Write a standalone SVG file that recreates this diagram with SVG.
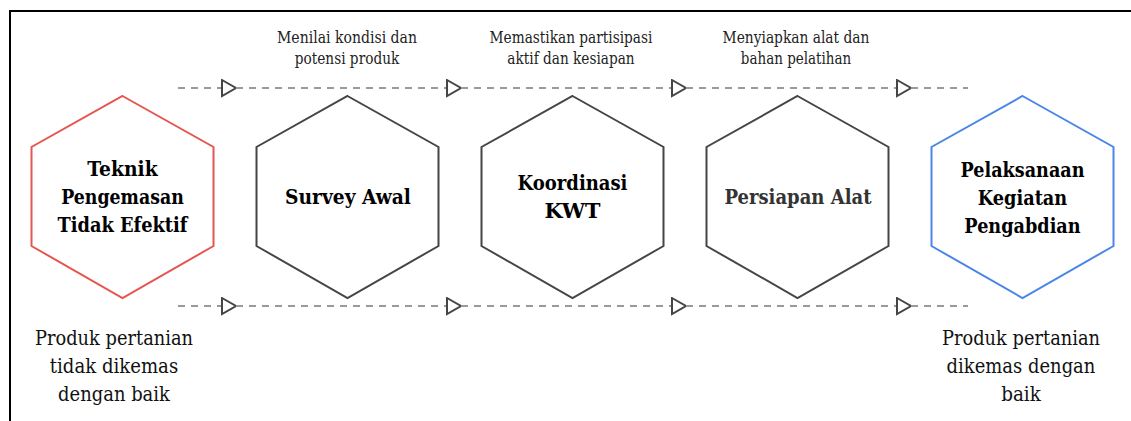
<svg xmlns="http://www.w3.org/2000/svg" width="1131" height="421" viewBox="0 0 1131 421">
<style>
.hex{fill:#fff;stroke-width:2;stroke-linejoin:miter}
.dark{stroke:#454545}
.red{stroke:#E4564F}
.blue{stroke:#4A86E8}
text{font-family:'DejaVu Serif','Liberation Serif',serif;text-anchor:middle}
.lbl{font-weight:bold;font-size:21px;fill:#000}
.note{font-size:16px;fill:#222}
.out{font-size:21px;fill:#111}
.con{fill:none;stroke:#9a9a9a;stroke-width:2;stroke-dasharray:7 6}
</style>
<defs>
<marker id="arr" markerUnits="userSpaceOnUse" markerWidth="18" markerHeight="20" refX="15" refY="9" orient="auto" viewBox="0 0 18 20">
<path d="M1,1 L15,9 L1,17 Z" fill="#fff" stroke="#454545" stroke-width="2" stroke-linejoin="miter"/>
</marker>
</defs>
<rect width="1131" height="421" fill="#fff"/>
<path d="M10,421 L10,11 L1131,11" fill="none" stroke="#000" stroke-width="2"/>
<g id="connectors">
<path class="con" d="M178,88 H236" marker-end="url(#arr)"/>
<path class="con" d="M236,88 H461" marker-end="url(#arr)"/>
<path class="con" d="M461,88 H686" marker-end="url(#arr)"/>
<path class="con" d="M686,88 H911" marker-end="url(#arr)"/>
<path class="con" d="M911,88 H968"/>
<path class="con" d="M178,306 H236" marker-end="url(#arr)"/>
<path class="con" d="M236,306 H461" marker-end="url(#arr)"/>
<path class="con" d="M461,306 H686" marker-end="url(#arr)"/>
<path class="con" d="M686,306 H911" marker-end="url(#arr)"/>
<path class="con" d="M911,306 H968"/>
<text class="note" x="347" y="43" textLength="140" lengthAdjust="spacingAndGlyphs">Menilai kondisi dan</text>
<text class="note" x="347" y="64" textLength="104.5" lengthAdjust="spacingAndGlyphs">potensi produk</text>
<text class="note" x="571" y="43" textLength="162.8" lengthAdjust="spacingAndGlyphs">Memastikan partisipasi</text>
<text class="note" x="571" y="64" textLength="127.3" lengthAdjust="spacingAndGlyphs">aktif dan kesiapan</text>
<text class="note" x="796" y="43" textLength="146.8" lengthAdjust="spacingAndGlyphs">Menyiapkan alat dan</text>
<text class="note" x="796" y="64" textLength="110.3" lengthAdjust="spacingAndGlyphs">bahan pelatihan</text>
</g>
<g id="n1">
<polygon class="hex red" points="122.5,96 213.5,147 213.5,246 122.5,298 31.5,246 31.5,147"/>
<text class="lbl" x="122.5" y="176" textLength="70.3" lengthAdjust="spacingAndGlyphs">Teknik</text>
<text class="lbl" x="122.5" y="204" textLength="122.7" lengthAdjust="spacingAndGlyphs">Pengemasan</text>
<text class="lbl" x="122.5" y="232" textLength="130" lengthAdjust="spacingAndGlyphs">Tidak Efektif</text>
</g>
<g id="n2">
<polygon class="hex dark" points="347.5,96 438.5,147 438.5,246 347.5,298 256.5,246 256.5,147"/>
<text class="lbl" x="348" y="204" textLength="125.9" lengthAdjust="spacingAndGlyphs">Survey Awal</text>
</g>
<g id="n3">
<polygon class="hex dark" points="572.5,96 663.5,147 663.5,246 572.5,298 481.5,246 481.5,147"/>
<text class="lbl" x="572.5" y="190" textLength="109.9" lengthAdjust="spacingAndGlyphs">Koordinasi</text>
<text class="lbl" x="572.5" y="218" textLength="56.2" lengthAdjust="spacingAndGlyphs">KWT</text>
</g>
<g id="n4">
<polygon class="hex dark" points="797.5,96 888.5,147 888.5,246 797.5,298 706.5,246 706.5,147"/>
<text class="lbl" x="798" y="204" textLength="147" lengthAdjust="spacingAndGlyphs" style="fill:#333">Persiapan Alat</text>
</g>
<g id="n5">
<polygon class="hex blue" points="1022.5,96 1113.5,147 1113.5,246 1022.5,298 931.5,246 931.5,147"/>
<text class="lbl" x="1022.5" y="177" textLength="124" lengthAdjust="spacingAndGlyphs">Pelaksanaan</text>
<text class="lbl" x="1022.5" y="205" textLength="89.4" lengthAdjust="spacingAndGlyphs">Kegiatan</text>
<text class="lbl" x="1022.5" y="233" textLength="116.3" lengthAdjust="spacingAndGlyphs">Pengabdian</text>
</g>
<g id="in-text">
<text class="out" x="114" y="345" textLength="158" lengthAdjust="spacingAndGlyphs">Produk pertanian</text>
<text class="out" x="114" y="373" textLength="128.4" lengthAdjust="spacingAndGlyphs">tidak dikemas</text>
<text class="out" x="114" y="401" textLength="111.8" lengthAdjust="spacingAndGlyphs">dengan baik</text>
</g>
<g id="out-text">
<text class="out" x="1021" y="345" textLength="158" lengthAdjust="spacingAndGlyphs">Produk pertanian</text>
<text class="out" x="1021" y="373" textLength="148.8" lengthAdjust="spacingAndGlyphs">dikemas dengan</text>
<text class="out" x="1021" y="401" textLength="39.6" lengthAdjust="spacingAndGlyphs">baik</text>
</g>
</svg>
